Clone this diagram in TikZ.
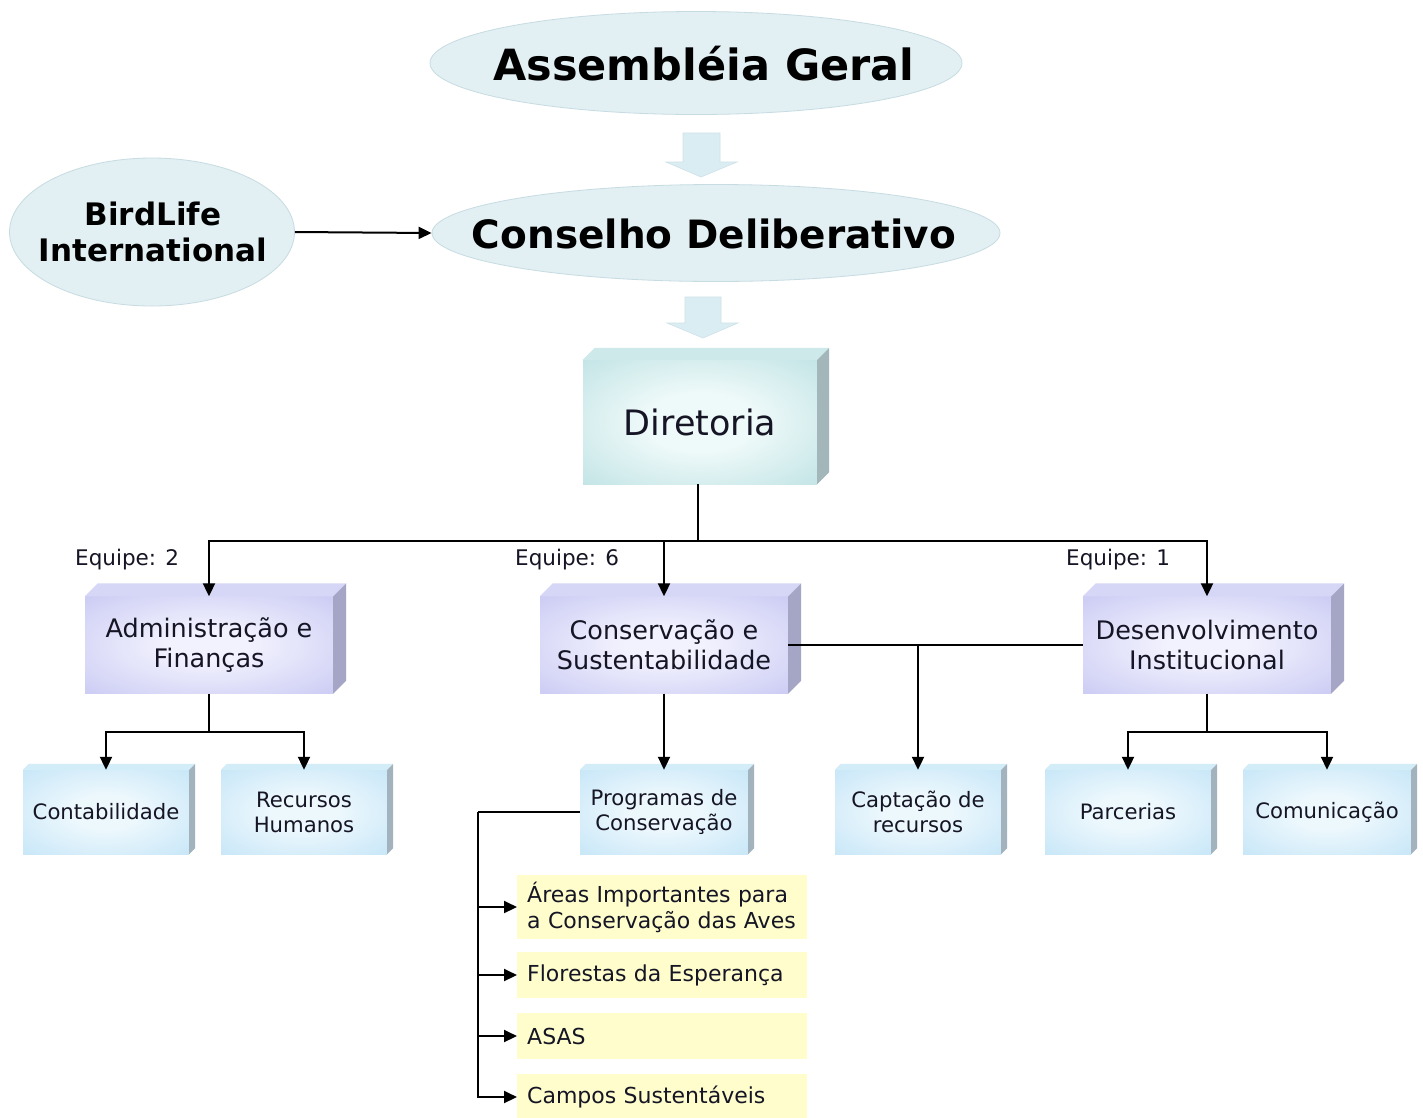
\documentclass[tikz,border=0pt]{standalone}
\usepackage{fontspec}
\setmainfont{DejaVu Sans}
\usetikzlibrary{arrows.meta,shapes.geometric,calc}

\definecolor{ellfill}{HTML}{E2EFF3}
\definecolor{ellline}{HTML}{C6DCE2}
\definecolor{barrow}{HTML}{DAEDF2}
\definecolor{barrowline}{HTML}{CCE2E8}
\definecolor{dinner}{HTML}{EEF9F9}
\definecolor{douter}{HTML}{B4DDDF}
\definecolor{dtop}{HTML}{CDE9EA}
\definecolor{dside}{HTML}{A3B6BA}
\definecolor{pinner}{HTML}{F2F2FE}
\definecolor{pouter}{HTML}{C3C3F2}
\definecolor{ptop}{HTML}{D6D6F6}
\definecolor{pside}{HTML}{A5A5C6}
\definecolor{binner}{HTML}{EDF8FD}
\definecolor{bouter}{HTML}{BCE1F6}
\definecolor{btop}{HTML}{D2ECF8}
\definecolor{bside}{HTML}{A3B3BD}
\definecolor{yfill}{HTML}{FEFDCB}
\definecolor{txt}{HTML}{151525}

\pgfdeclareradialshading{dglow}{\pgfpoint{0bp}{0bp}}{color(0bp)=(dinner); color(12bp)=(dinner); color(44bp)=(douter); color(50bp)=(douter)}
\pgfdeclareradialshading{pglow}{\pgfpoint{0bp}{0bp}}{color(0bp)=(pinner); color(8bp)=(pinner); color(42bp)=(pouter); color(50bp)=(pouter)}
\pgfdeclareradialshading{bglow}{\pgfpoint{0bp}{0bp}}{color(0bp)=(binner); color(10bp)=(binner); color(44bp)=(bouter); color(50bp)=(bouter)}

\newcommand\boxfaces[4]{%
  \fill[#3] (#1.north west) -- ++(#2pt,#2pt) -- ($(#1.north east)+(#2pt,#2pt)$) -- (#1.north east) -- cycle;
  \fill[#4] (#1.north east) -- ++(#2pt,#2pt) -- ($(#1.south east)+(#2pt,#2pt)$) -- (#1.south east) -- cycle;}

\begin{document}
\begin{tikzpicture}[x=1pt,y=-1pt,
  ell/.style={ellipse, fill=ellfill, draw=ellline, line width=0.8pt, inner sep=0pt},
  dirbox/.style={rectangle, inner sep=0pt, shade, shading=dglow, minimum width=234pt, minimum height=124pt, text=txt, font=\fontsize{35}{42}\selectfont},
  pbox/.style={rectangle, inner sep=0pt, shade, shading=pglow, minimum width=248pt, minimum height=97pt, align=center, text=txt, font=\fontsize{25.5}{30}\selectfont},
  bbox/.style={rectangle, inner sep=0pt, shade, shading=bglow, minimum width=166pt, minimum height=84pt, align=center, text=txt, font=\fontsize{21.2}{25}\selectfont},
  ybox/.style={rectangle, fill=yfill, inner xsep=10pt, inner ysep=0pt, minimum width=290pt, text width=270pt, align=left, anchor=west, text=txt, font=\fontsize{22}{26}\selectfont},
  lbl/.style={anchor=west, inner sep=0pt, text=txt, font=\fontsize{21.5}{24}\selectfont},
  conn/.style={line width=2pt, draw=black},
  arr/.style={conn, -{Triangle[length=13pt,width=12pt]}},
  blockarrow/.style={fill=barrow, draw=barrowline, line width=0.6pt}
]
\useasboundingbox (0,0) rectangle (1423,1117);
\fill[white] (0,0) rectangle (1423,1117);

% ellipses
\node[ell, minimum width=532pt, minimum height=103pt] (ag) at (696,63) {};
\node[font=\bfseries\fontsize{43}{50}\selectfont, inner sep=0pt] (agt) at (704,64) {Assembléia Geral};
\node[ell, minimum width=568pt, minimum height=97pt] (cd) at (716,233) {};
\node[font=\bfseries\fontsize{39}{46}\selectfont, inner sep=0pt] (cdt) at (714,234) {Conselho Deliberativo};
\node[ell, minimum width=285pt, minimum height=148pt] (bl) at (152,232) {};
\node[align=center, inner sep=0pt, font=\bfseries\fontsize{31}{36}\selectfont] (blt) at (153,232) {BirdLife\\International};

% block arrows
\path[blockarrow] (683,133) -- (720,133) -- (720,162) -- (737,162) -- (701,177) -- (666,162) -- (683,162) -- cycle;
\path[blockarrow] (685,297) -- (721,297) -- (721,323) -- (738,323) -- (703,338) -- (667,323) -- (685,323) -- cycle;

% Diretoria
\node[dirbox] (dir) at (700,422) {Diretoria};
\boxfaces{dir}{12}{dtop}{dside}

% purple boxes
\node[pbox] (adm) at (209,645) {Administração e\\Finanças};
\boxfaces{adm}{13}{ptop}{pside}
\node[pbox] (cons) at (664,645) {Conservação e\\Sustentabilidade};
\boxfaces{cons}{13}{ptop}{pside}
\node[pbox] (des) at (1207,645) {Desenvolvimento\\Institucional};
\boxfaces{des}{13}{ptop}{pside}

% blue boxes
\node[bbox] (cont) at (106,812) {Contabilidade};
\boxfaces{cont}{6}{btop}{bside}
\node[bbox] (rh) at (304,812) {Recursos\\Humanos};
\boxfaces{rh}{6}{btop}{bside}
\node[bbox, minimum width=168pt] (prog) at (664,812) {Programas de\\Conservação};
\boxfaces{prog}{6}{btop}{bside}
\node[bbox] (capt) at (918,812) {Captação de\\recursos};
\boxfaces{capt}{6}{btop}{bside}
\node[bbox] (parc) at (1128,812) {Parcerias};
\boxfaces{parc}{6}{btop}{bside}
\node[bbox, minimum width=168pt] (com) at (1327,812) {Comunicação};
\boxfaces{com}{6}{btop}{bside}

% yellow boxes
\node[ybox, minimum height=64pt] (y1) at (517,907) {Áreas Importantes para\\a Conservação das Aves};
\node[ybox, minimum height=46pt] (y2) at (517,975) {Florestas da Esperança};
\node[ybox, minimum height=46pt] (y3) at (517,1036) {ASAS};
\node[ybox, minimum height=46pt] (y4) at (517,1097) {Campos Sustentáveis};

% labels
\node[lbl] (e2) at (75,560) {Equipe: 2};
\node[lbl] (e6) at (515,560) {Equipe: 6};
\node[lbl] (e1) at (1066,560) {Equipe: 1};

% connectors
\coordinate (bus) at (698,541);
\draw[conn] (dir.south -| bus) -- (bus);
\draw[arr] (bus) -| (adm.north);
\draw[arr] (bus) -| (cons.north);
\draw[arr] (bus) -| (des.north);

\draw[arr] (bl.east) -- (cd.west);

\draw[conn] (cons.east) -- (des.west);
\draw[arr] (cons.east -| capt.north) -- (capt.north);

\coordinate (admj) at (209,732);
\draw[conn] (adm.south) -- (admj);
\draw[arr] (admj) -| (cont.north);
\draw[arr] (admj) -| (rh.north);

\draw[arr] (cons.south) -- (prog.north);

\coordinate (desj) at (1207,732);
\draw[conn] (des.south) -- (desj);
\draw[arr] (desj) -| (parc.north);
\draw[arr] (desj) -| (com.north);

\coordinate (pj) at (478,812);
\draw[conn] (prog.west) -- (pj);
\draw[arr] (pj) |- (y1.west);
\draw[arr] (pj) |- (y2.west);
\draw[arr] (pj) |- (y3.west);
\draw[arr] (pj) |- (y4.west);
\end{tikzpicture}
\end{document}
